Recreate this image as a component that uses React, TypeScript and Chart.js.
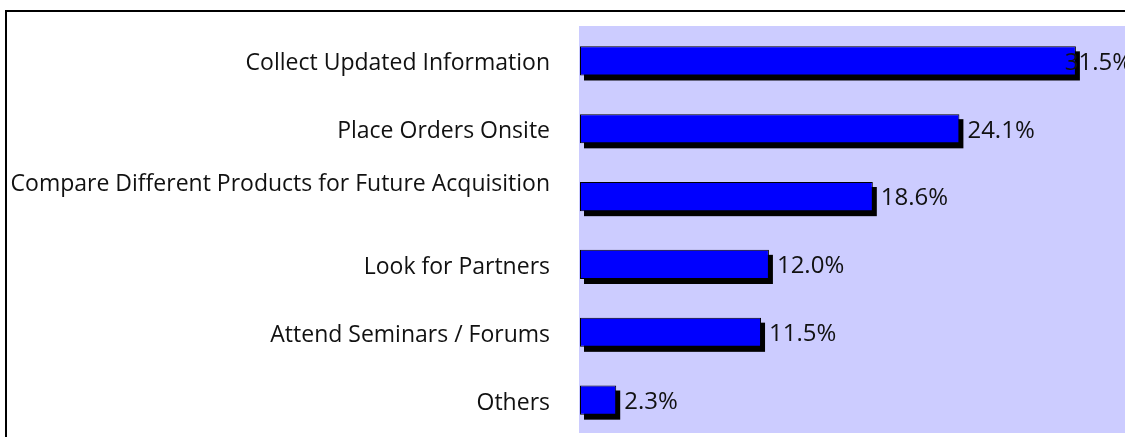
import React, { useEffect, useRef } from 'react';
import { Chart, registerables } from 'chart.js';

Chart.register(...registerables);

const categories: (string | string[])[] = [
  'Collect Updated Information',
  'Place Orders Onsite',
  ['Compare Different Products for Future Acquisition', ''],
  'Look for Partners',
  'Attend Seminars / Forums',
  'Others',
];
const values: number[] = [31.5, 24.1, 18.6, 12.0, 11.5, 2.3];
const valueLabels: string[] = ['31.5%', '24.1%', '18.6%', '12.0%', '11.5%', '2.3%'];

const FONT = "'Open Sans', sans-serif";
const CANVAS_W = 1131;
const CANVAS_H = 437;

const framePlugin = {
  id: 'frame',
  beforeDraw(chart: any) {
    const { ctx, chartArea } = chart;
    ctx.save();
    ctx.fillStyle = '#ffffff';
    ctx.fillRect(0, 0, chart.width, chart.height);
    ctx.fillStyle = '#ccccff';
    ctx.fillRect(chartArea.left - 1, chartArea.top - 1, chartArea.right - chartArea.left + 1, chartArea.bottom - chartArea.top);
    ctx.fillStyle = '#000000';
    ctx.fillRect(5, 10, chart.width, 2);
    ctx.fillRect(5, 10, 2, chart.height);
    ctx.restore();
  },
};

const shadowPlugin = {
  id: 'shadow',
  beforeDatasetsDraw(chart: any) {
    const { ctx } = chart;
    const meta = chart.getDatasetMeta(0);
    ctx.save();
    ctx.fillStyle = '#000000';
    meta.data.forEach((el: any) => {
      const p = el.getProps(['x', 'y', 'base', 'height'], true);
      ctx.fillRect(p.base + 4, p.y - p.height / 2 + 5, p.x - p.base, p.height);
    });
    ctx.restore();
  },
};

const valueLabelPlugin = {
  id: 'valueLabels',
  afterDatasetsDraw(chart: any) {
    const { ctx } = chart;
    const meta = chart.getDatasetMeta(0);
    ctx.save();
    ctx.font = `24px ${FONT}`;
    ctx.fillStyle = '#111111';
    ctx.textBaseline = 'middle';
    ctx.textAlign = 'left';
    meta.data.forEach((el: any, i: number) => {
      const p = el.getProps(['x', 'y'], true);
      const txt = valueLabels[i];
      const w = ctx.measureText(txt).width;
      const x = Math.min(p.x + 8, chart.width - w + 1);
      ctx.fillText(txt, x, p.y + 2);
    });
    ctx.restore();
  },
};

export default function App() {
  const ref = useRef<HTMLCanvasElement | null>(null);

  useEffect(() => {
    if (!ref.current) return;
    const chart = new Chart(ref.current, {
      type: 'bar',
      data: {
        labels: categories,
        datasets: [
          {
            data: values,
            backgroundColor: '#0000ff',
            borderColor: '#000000',
            borderWidth: 1,
            borderSkipped: false,
            barPercentage: 0.43,
            categoryPercentage: 1,
          },
        ],
      },
      options: {
        indexAxis: 'y',
        animation: false,
        responsive: false,
        devicePixelRatio: 1,
        layout: { padding: { left: 0, right: 0, top: 27, bottom: 3 } },
        plugins: {
          legend: { display: false },
          tooltip: { enabled: false },
        },
        scales: {
          x: {
            display: false,
            min: 0,
            max: 35,
            grid: { display: false },
          },
          y: {
            grid: { display: false, drawTicks: false },
            border: { display: false },
            ticks: {
              color: '#111111',
              padding: 30,
              labelOffset: 3,
              font: { family: FONT, size: 23, lineHeight: 1.3 },
            },
            afterFit: (scale: any) => {
              scale.width = 580;
              scale.paddingTop = 0;
              scale.paddingBottom = 0;
            },
          },
        },
      },
      plugins: [framePlugin, shadowPlugin, valueLabelPlugin],
    });
    return () => chart.destroy();
  }, []);

  return (
    <div style={{ position: 'absolute', left: 0, top: 0, width: 1125, height: 437, overflow: 'hidden', background: '#fff' }}>
      <canvas ref={ref} width={CANVAS_W} height={CANVAS_H} style={{ display: 'block', width: CANVAS_W, height: CANVAS_H }} />
    </div>
  );
}
